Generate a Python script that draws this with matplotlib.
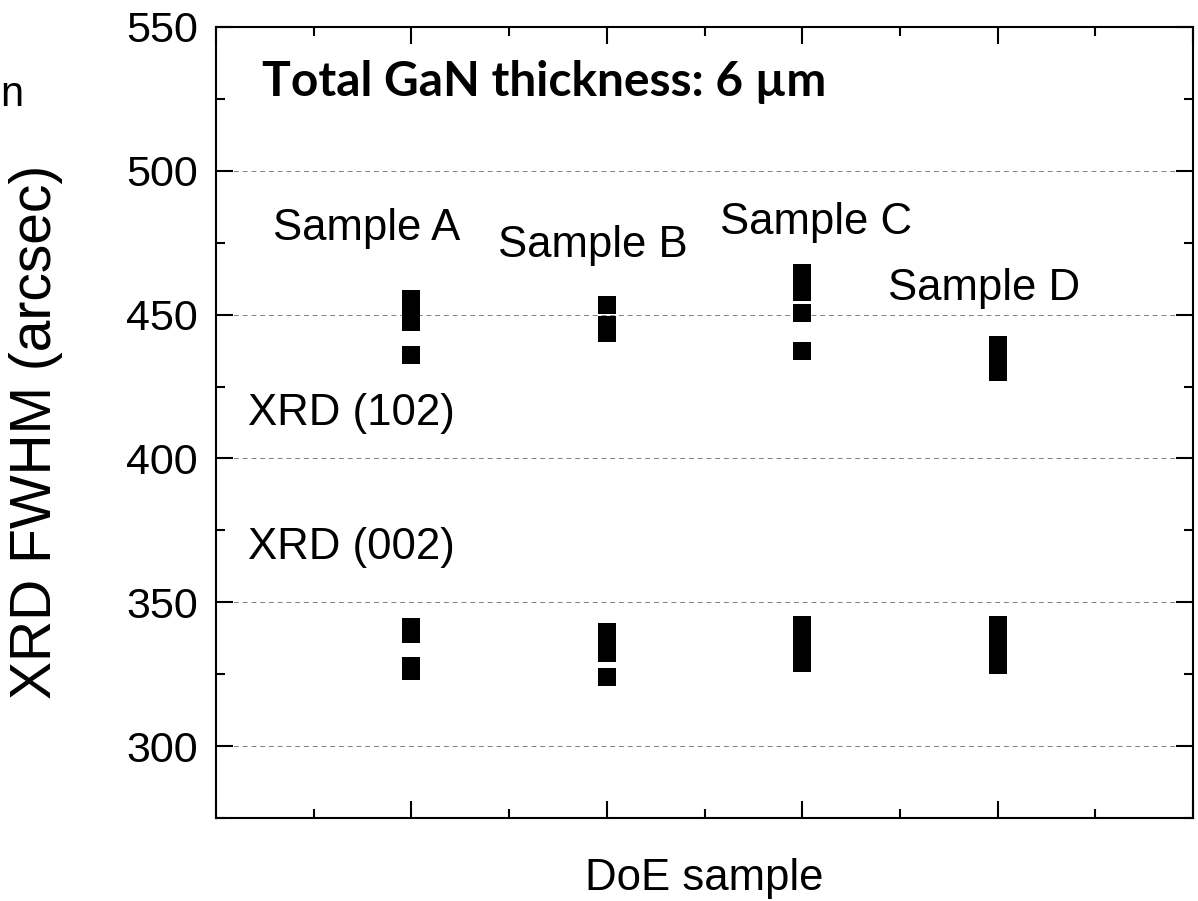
import numpy as np
import matplotlib
matplotlib.use('Agg')
import matplotlib.pyplot as plt
from matplotlib.ticker import MultipleLocator


samples = ['Sample A', 'Sample B', 'Sample C', 'Sample D']
sample_x = [1, 2, 3, 4]

# XRD (102) FWHM values (arcsec)
fwhm_102 = [
    [455.5, 453, 450, 447.5, 436],
    [453.5, 446.5, 445, 443.5],
    [464.5, 461, 458, 450.5, 437.5],
    [439.5, 437, 434.5, 432, 430],
]
# XRD (002) FWHM values (arcsec)
fwhm_002 = [
    [341.5, 339, 328, 326.2],
    [339.7, 336, 332.2, 324],
    [342, 338.5, 335.5, 332, 329],
    [342.2, 339, 335, 331.5, 328.3],
]

label_pos = [(0.77, 480), (1.93, 474), (3.07, 482), (3.93, 459)]

plt.rcParams['font.family'] = ['Liberation Sans', 'DejaVu Sans']

fig = plt.figure(figsize=(11.98, 9.01), dpi=100)
ax = fig.add_axes([216/1198, 1 - 818/901, (1193 - 216)/1198, (818 - 27)/901])

for i in range(4):
    ax.plot([sample_x[i]]*len(fwhm_102[i]), fwhm_102[i], 's', color='black',
            markersize=12.3, markeredgewidth=0, zorder=3)
    ax.plot([sample_x[i]]*len(fwhm_002[i]), fwhm_002[i], 's', color='black',
            markersize=12.3, markeredgewidth=0, zorder=3)
    ax.text(label_pos[i][0], label_pos[i][1], samples[i], fontsize=31.5,
            ha='center', va='center')

ax.text(0.695, 415.5, 'XRD (102)', fontsize=31.5, ha='center', va='center')
ax.text(0.695, 369, 'XRD (002)', fontsize=31.5, ha='center', va='center')
ax.text(0.047, 0.93, 'Total GaN thickness: 6 µm', transform=ax.transAxes,
        fontsize=34.5, fontweight='bold', family=['Lato', 'DejaVu Sans'],
        ha='left', va='center')

ax.set_xlim(0, 5)
ax.set_ylim(275, 550)
ax.yaxis.set_major_locator(MultipleLocator(50))
ax.yaxis.set_minor_locator(MultipleLocator(25))
ax.xaxis.set_major_locator(MultipleLocator(1))
ax.xaxis.set_minor_locator(MultipleLocator(0.5))
ax.set_xticklabels([])
ax.tick_params(which='both', direction='in', top=True, right=True, width=1.5)
ax.tick_params(which='major', length=12)
ax.tick_params(which='minor', length=6.5)
ax.tick_params(axis='y', labelsize=31, pad=13)
for s in ax.spines.values():
    s.set_linewidth(1.5)

for yv in [300, 350, 400, 450, 500]:
    ax.axhline(yv, color='gray', linestyle=(0, (5, 4)), linewidth=0.7, zorder=1)

ax.set_xlabel('DoE sample', fontsize=31.5, labelpad=25)
ax.set_ylabel('XRD FWHM (arcsec)', fontsize=41)
ax.yaxis.set_label_coords(-0.157, 0.488)

fig.text(0.0, 1 - 95/901, 'n', fontsize=30, ha='left', va='center')

fig.savefig('out.png', dpi=100)
